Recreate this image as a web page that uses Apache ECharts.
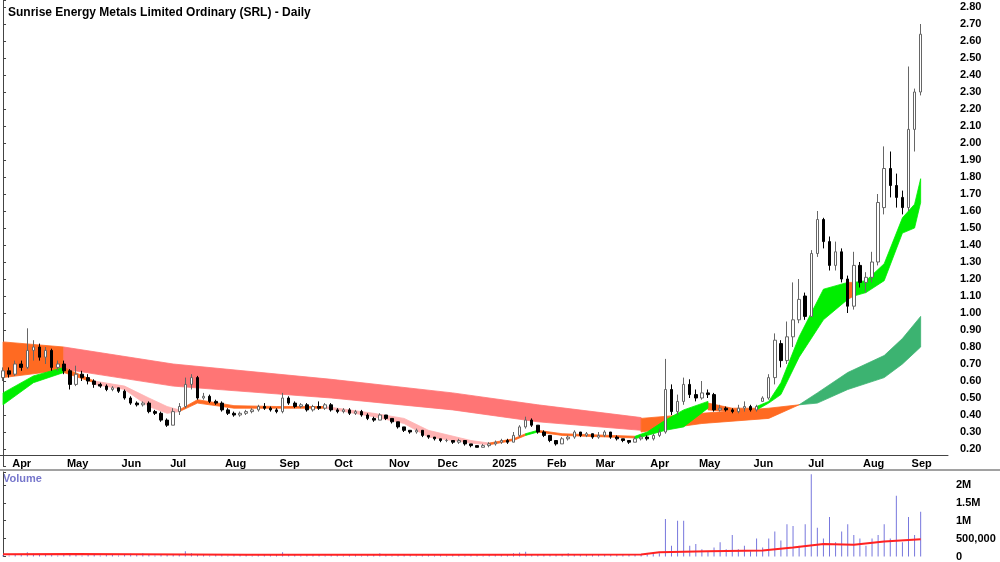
<!DOCTYPE html>
<html><head><meta charset="utf-8">
<script src="https://cdn.jsdelivr.net/npm/echarts@6/dist/echarts.min.js"></script>
<style>html,body{margin:0;padding:0;background:#fff}#c{width:1000px;height:562px}</style>
</head><body><div id="c"></div>
<script>
// candles [open, close, low, high], two slots per week starting week of 25 Mar 2024
const candles = [
[0.62,0.66,0.60,0.68],[0.66,0.64,0.62,0.68],
[0.64,0.70,0.63,0.72],[0.70,0.68,0.66,0.72],
[0.68,0.78,0.67,0.91],[0.78,0.80,0.72,0.84],
[0.80,0.74,0.72,0.82],[0.74,0.78,0.70,0.80],
[0.78,0.68,0.66,0.79],[0.68,0.70,0.66,0.72],
[0.70,0.66,0.64,0.72],[0.66,0.58,0.55,0.67],
[0.58,0.64,0.57,0.69],[0.64,0.62,0.60,0.66],
[0.62,0.60,0.58,0.64],[0.60,0.58,0.56,0.61],
[0.58,0.57,0.56,0.59],[0.57,0.55,0.54,0.58],
[0.55,0.56,0.54,0.57],[0.56,0.54,0.53,0.56],
[0.54,0.50,0.49,0.55],[0.50,0.47,0.46,0.51],
[0.47,0.46,0.45,0.48],[0.46,0.47,0.45,0.48],
[0.47,0.42,0.41,0.48],[0.42,0.41,0.40,0.43],
[0.41,0.37,0.36,0.42],[0.37,0.34,0.33,0.38],
[0.34,0.42,0.34,0.44],[0.42,0.45,0.40,0.47],
[0.45,0.58,0.44,0.62],[0.58,0.62,0.55,0.64],
[0.62,0.50,0.49,0.63],[0.50,0.51,0.49,0.53],
[0.51,0.48,0.47,0.52],[0.48,0.47,0.46,0.49],
[0.47,0.43,0.42,0.48],[0.43,0.41,0.40,0.44],
[0.41,0.40,0.39,0.42],[0.40,0.41,0.39,0.42],
[0.41,0.42,0.40,0.43],[0.42,0.43,0.41,0.44],
[0.43,0.45,0.42,0.46],[0.45,0.44,0.43,0.47],
[0.44,0.43,0.42,0.45],[0.43,0.42,0.41,0.44],
[0.42,0.50,0.41,0.53],[0.50,0.47,0.46,0.51],
[0.47,0.45,0.44,0.48],[0.45,0.46,0.44,0.47],
[0.46,0.43,0.42,0.47],[0.43,0.45,0.42,0.46],
[0.45,0.44,0.43,0.48],[0.44,0.46,0.43,0.47],
[0.46,0.43,0.42,0.47],[0.43,0.42,0.41,0.44],
[0.42,0.43,0.41,0.44],[0.43,0.41,0.40,0.44],
[0.41,0.42,0.40,0.43],[0.42,0.40,0.39,0.43],
[0.40,0.38,0.37,0.41],[0.38,0.37,0.36,0.39],
[0.37,0.40,0.37,0.41],[0.40,0.38,0.37,0.40],
[0.38,0.36,0.35,0.38],[0.36,0.33,0.32,0.36],
[0.33,0.31,0.30,0.33],[0.31,0.30,0.29,0.31],
[0.30,0.31,0.29,0.32],[0.31,0.28,0.27,0.31],
[0.28,0.27,0.26,0.28],[0.27,0.26,0.25,0.27],
[0.26,0.25,0.24,0.26],[0.25,0.25,0.24,0.26],
[0.25,0.24,0.23,0.25],[0.24,0.25,0.23,0.26],
[0.25,0.23,0.22,0.25],[0.23,0.22,0.21,0.23],
[0.22,0.21,0.21,0.22],[0.21,0.22,0.21,0.23],
[0.22,0.23,0.21,0.24],[0.23,0.24,0.22,0.25],
[0.24,0.25,0.23,0.26],[0.25,0.24,0.23,0.26],
[0.24,0.28,0.24,0.30],[0.28,0.33,0.27,0.34],
[0.33,0.37,0.32,0.39],[0.37,0.34,0.33,0.38],
[0.34,0.30,0.29,0.34],[0.30,0.28,0.27,0.31],
[0.28,0.25,0.24,0.28],[0.25,0.23,0.22,0.25],
[0.23,0.26,0.23,0.27],[0.26,0.27,0.25,0.28],
[0.27,0.30,0.26,0.31],[0.30,0.28,0.27,0.30],
[0.28,0.29,0.27,0.30],[0.29,0.27,0.26,0.29],
[0.27,0.28,0.26,0.30],[0.28,0.30,0.27,0.31],
[0.30,0.27,0.26,0.30],[0.27,0.26,0.25,0.28],
[0.26,0.25,0.24,0.26],[0.25,0.24,0.23,0.25],
[0.24,0.26,0.24,0.27],[0.26,0.27,0.25,0.28],
[0.27,0.26,0.25,0.28],[0.26,0.28,0.25,0.29],
[0.28,0.30,0.27,0.32],[0.30,0.55,0.29,0.73],
[0.55,0.42,0.40,0.58],[0.42,0.48,0.40,0.52],
[0.48,0.58,0.46,0.62],[0.58,0.52,0.50,0.61],
[0.52,0.50,0.48,0.55],[0.50,0.53,0.49,0.60],
[0.53,0.52,0.50,0.55],[0.52,0.43,0.42,0.53],
[0.43,0.44,0.42,0.46],[0.44,0.43,0.42,0.45],
[0.43,0.42,0.41,0.44],[0.42,0.44,0.41,0.46],
[0.44,0.45,0.42,0.48],[0.45,0.43,0.42,0.46],
[0.43,0.45,0.42,0.46],[0.48,0.50,0.48,0.51],
[0.50,0.62,0.49,0.64],[0.62,0.84,0.58,0.88],
[0.82,0.72,0.68,0.84],[0.72,0.86,0.70,0.95],
[0.86,0.96,0.80,1.18],[0.96,1.08,0.94,1.20],
[1.10,0.98,0.96,1.12],[0.98,1.35,0.98,1.37],
[1.35,1.55,1.33,1.60],[1.55,1.42,1.38,1.56],
[1.42,1.28,1.25,1.45],[1.28,1.36,1.25,1.42],
[1.36,1.20,1.18,1.38],[1.20,1.04,1.00,1.22],
[1.04,1.28,1.02,1.36],[1.28,1.18,1.15,1.30],
[1.18,1.21,1.12,1.24],[1.21,1.30,1.18,1.36],
[1.30,1.65,1.28,1.70],[1.62,1.85,1.58,1.98],
[1.85,1.75,1.68,1.95],[1.75,1.68,1.62,1.82],
[1.68,1.62,1.58,1.72],[1.62,2.08,1.60,2.45],
[2.08,2.30,1.95,2.32],[2.30,2.64,2.28,2.70]
];
const volumes = [
40000,30000,60000,50000,120000,80000,50000,40000,60000,30000,
50000,70000,40000,30000,60000,40000,30000,50000,40000,30000,
60000,80000,40000,90000,50000,30000,40000,60000,50000,70000,
150000,90000,60000,40000,30000,50000,40000,30000,60000,40000,
50000,30000,40000,60000,40000,50000,120000,60000,40000,30000,
50000,40000,60000,30000,40000,50000,30000,40000,60000,30000,
50000,40000,90000,40000,30000,60000,40000,50000,30000,40000,
50000,30000,40000,30000,60000,40000,30000,50000,40000,30000,
50000,60000,40000,50000,90000,110000,130000,70000,50000,40000,
60000,50000,40000,90000,60000,50000,40000,70000,50000,40000,
60000,40000,50000,40000,60000,50000,60000,70000,90000,1050000,
300000,1000000,1000000,300000,350000,200000,150000,250000,400000,200000,
600000,200000,300000,150000,500000,250000,500000,700000,450000,900000,
850000,300000,900000,2300000,800000,500000,1100000,400000,700000,900000,
600000,500000,300000,500000,600000,900000,500000,1700000,400000,1100000,
600000,1250000
];
const volumeAvg = [[0,60000],[12,70000],[40,50000],[80,50000],[105,55000],[108,120000],[116,150000],[125,170000],[130,250000],[135,350000],[140,330000],[145,420000],[151,480000]];
// ribbons: [slot, lower, upper]
const longOrange1 = [[0,0.62,0.83],[10,0.665,0.80]];
const longRed = [[10,0.67,0.80],[28,0.57,0.70],[54,0.50,0.61],[74,0.43,0.53],[88,0.36,0.46],[105,0.31,0.385]];
const longOrange2 = [[105,0.30,0.38],[115,0.35,0.41],[126,0.38,0.44],[131,0.46,0.46]];
const longGreen = [[131,0.46,0.46],[134,0.47,0.53],[139,0.55,0.65],[145,0.62,0.75],[148,0.70,0.85],[151,0.80,0.98]];
const shortGreen = [
 [[0,0.46,0.53],[5,0.59,0.63],[10,0.65,0.68]],
 [[86,0.28,0.29],[88,0.30,0.31]],
 [[104,0.26,0.275],[106,0.28,0.30],[109,0.31,0.37],[112,0.33,0.43],[116,0.44,0.48]],
 [[124,0.43,0.45],[126,0.47,0.48],[128,0.52,0.59],[131,0.74,0.86],[135,0.96,1.14],[139,1.08,1.18]],
 [[140,1.10,1.18],[142,1.12,1.19],[145,1.19,1.29],[148,1.47,1.56],[150,1.50,1.64],[151,1.65,1.79]]
];
const shortOrange = [
 [[10,0.65,0.68],[15,0.59,0.60]],
 [[29,0.42,0.43],[32,0.47,0.49],[38,0.44,0.455],[45,0.44,0.45],[53,0.44,0.45]],
 [[80,0.225,0.235],[84,0.25,0.26],[86,0.28,0.29]],
 [[88,0.30,0.31],[92,0.28,0.29],[104,0.265,0.275]],
 [[116,0.43,0.47],[120,0.42,0.44],[124,0.42,0.44]],
 [[139,1.08,1.18],[140,1.10,1.18]]
];
const shortPink = [
 [[15,0.58,0.60],[20,0.55,0.57],[24,0.45,0.50],[27,0.41,0.45],[29,0.42,0.43]],
 [[53,0.44,0.45],[61,0.39,0.41],[66,0.35,0.38],[70,0.27,0.31],[77,0.235,0.25],[80,0.225,0.235]]
];
const priceTicks = {min:0.1, max:2.8412, step:0.1};

const start = new Date(Date.UTC(2024,2,25));
const N = 156;
const cats = [];
for (let i=0;i<N;i++){const d=new Date(start.getTime()+(Math.floor(i/2)*7+(i%2)*3)*86400000);cats.push(d.toISOString().slice(0,10));}
const mNames=['Jan','Feb','Mar','Apr','May','Jun','Jul','Aug','Sep','Oct','Nov','Dec'];
const isMonthStart=(i)=> i>0 && cats[i].slice(5,7)!==cats[i-1].slice(5,7);
function band(pts,color){
  return {type:'custom',xAxisIndex:1,yAxisIndex:0,z:1,silent:true,data:pts,
    encode:{x:0,y:[1,2]},
    renderItem:function(params,api){
      if(params.dataIndex!==0) return null;
      const up=pts.map(p=>api.coord([p[0],p[2]]));
      const lo=pts.map(p=>api.coord([p[0],p[1]])).reverse();
      return {type:'polygon',shape:{points:up.concat(lo)},style:{fill:color,stroke:color,lineWidth:0.8}};
    }};
}
const series=[];
series.push(band(longOrange1,'#ff6a22'));
series.push(band(longRed,'#ff7575'));
series.push(band(longOrange2,'#ff6a22'));
series.push(band(longGreen,'#3cb371'));
shortPink.forEach(s=>series.push(band(s,'#ffb3b3')));
shortOrange.forEach(s=>series.push(band(s,'#ff6a22')));
shortGreen.forEach(s=>series.push(band(s,'#00ee00')));
series.push({type:'candlestick',xAxisIndex:0,yAxisIndex:0,z:5,data:candles.map(c=>[c[0],c[1],c[2],c[3]]),barMaxWidth:4,
  itemStyle:{color:'#ffffff',color0:'#000000',borderColor:'#666666',borderColor0:'#000000',borderWidth:1}});
series.push({type:'bar',xAxisIndex:2,yAxisIndex:1,data:volumes,barWidth:1,itemStyle:{color:'#7777dd'}});
series.push({type:'line',xAxisIndex:3,yAxisIndex:1,data:volumeAvg,showSymbol:false,lineStyle:{color:'#ff2222',width:2},z:5});

const chart=echarts.init(document.getElementById('c'));
chart.setOption({
  animation:false,
  textStyle:{fontFamily:'Liberation Sans'},
  title:{text:'Sunrise Energy Metals Limited Ordinary (SRL) - Daily',left:3,top:2,textStyle:{fontSize:12,fontWeight:'bold',color:'#000',fontFamily:'Liberation Sans'}},
  graphic:[
    {type:'text',left:3,top:473,style:{text:'Volume',fill:'#7777cc',font:'bold 11px Liberation Sans'}},
    {type:'line',shape:{x1:0,y1:470,x2:1000,y2:470},style:{stroke:'#444',lineWidth:1}}
  ],
  grid:[{left:0,right:52,top:0,height:466},{left:0,right:52,top:472,height:85}],
  xAxis:[
    {type:'category',gridIndex:0,data:cats,offset:-11,boundaryGap:true,
     axisLine:{lineStyle:{color:'#444'}},
     axisTick:{interval:(i)=>isMonthStart(i),length:4,lineStyle:{color:'#444'},alignWithLabel:true},
     axisLabel:{interval:(i)=>isMonthStart(i),formatter:(v)=>{const m=+v.slice(5,7);return m===1?v.slice(0,4):mNames[m-1];},
       align:'left',padding:[0,0,0,-3],margin:3,fontSize:11,fontWeight:'bold',color:'#000'},
     splitLine:{show:false}},
    {type:'value',gridIndex:0,min:-0.5,max:N-0.5,show:false},
    {type:'category',gridIndex:1,data:cats,show:false,boundaryGap:true},
    {type:'value',gridIndex:1,min:-0.5,max:N-0.5,show:false}
  ],
  yAxis:[
    {type:'value',gridIndex:0,position:'right',min:priceTicks.min,max:priceTicks.max,interval:priceTicks.step,
     axisLine:{show:true,lineStyle:{color:'#444'}},axisTick:{show:true,length:3,lineStyle:{color:'#444'}},splitLine:{show:false},
     axisLabel:{margin:12,fontSize:11,fontWeight:'bold',color:'#000',showMaxLabel:true,formatter:(v)=>(v<0.15||v>2.805)?'':v.toFixed(2)}},
    {type:'value',gridIndex:1,position:'right',min:0,max:2360000,interval:500000,
     axisLine:{show:true,lineStyle:{color:'#444'}},axisTick:{show:true,length:3,lineStyle:{color:'#444'}},splitLine:{show:false},
     axisLabel:{margin:8,fontSize:11,fontWeight:'bold',color:'#000',align:'left',
       formatter:(v)=>v===0?'0':v===500000?'500,000':(v%500000===0?(v/1e6)+'M':'')}}
  ],
  series:series
});
</script></body></html>
